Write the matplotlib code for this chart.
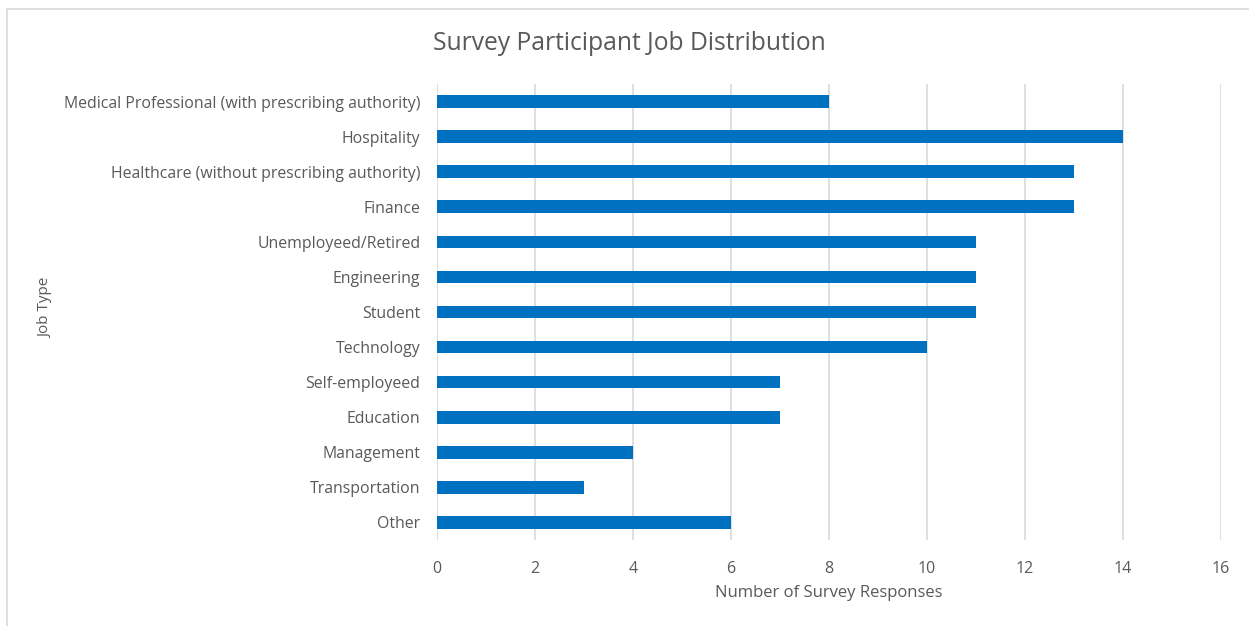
import matplotlib
matplotlib.use("Agg")
import matplotlib.pyplot as plt
from matplotlib.patches import Rectangle

# -------------------------
# Data
# -------------------------

jobs = [
    "Medical Professional (with prescribing authority)",
    "Hospitality",
    "Healthcare (without prescribing authority)",
    "Finance",
    "Unemployeed/Retired",
    "Engineering",
    "Student",
    "Technology",
    "Self-employeed",
    "Education",
    "Management",
    "Transportation",
    "Other",
]
responses = [8, 14, 13, 13, 11, 11, 11, 10, 7, 7, 4, 3, 6]
x_ticks = [0, 2, 4, 6, 8, 10, 12, 14, 16]

# -------------------------
# Style
# -------------------------

plt.rcParams['font.family'] = ['Open Sans', 'DejaVu Sans']
TEXT = "#595959"
BAR = "#0070C0"
GRID = "#D9D9D9"

W, H = 1249, 626
fig = plt.figure(figsize=(W / 100, H / 100), dpi=100)
ax = fig.add_axes([437 / W, 1 - 540 / H, (1221 - 437) / W, (540 - 84) / H])

# outer chart border (cut off at right/bottom in the reference)
fig.patches.append(Rectangle((7 / W, -0.1), 1.2, 1 - 9 / H + 0.1,
                             transform=fig.transFigure, fill=False,
                             edgecolor=GRID, linewidth=1.2))

pos = list(range(len(jobs)))
ax.barh(pos, responses, height=0.36, color=BAR, zorder=3)

ax.set_xlim(0, 16)
ax.set_ylim(len(jobs) - 0.5, -0.5)
ax.set_xticks(x_ticks)
ax.set_yticks(pos)
ax.set_yticklabels(jobs)

ax.grid(axis="x", color=GRID, linewidth=1.2, zorder=0)
for s in ax.spines.values():
    s.set_visible(False)
ax.tick_params(length=0, colors=TEXT)
ax.tick_params(axis="x", labelsize=11.5, pad=15)
ax.tick_params(axis="y", labelsize=11.4, pad=12)

ax.set_xlabel("Number of Survey Responses", fontsize=12, color=TEXT, labelpad=6)
fig.text(46 / W, 1 - 308 / H, "Job Type", rotation=90, ha="center", va="center",
         fontsize=11, color=TEXT)
fig.text(629 / W, 1 - 44 / H, "Survey Participant Job Distribution",
         ha="center", va="center", fontsize=17.7, color=TEXT)

fig.savefig("out.png", dpi=100)
